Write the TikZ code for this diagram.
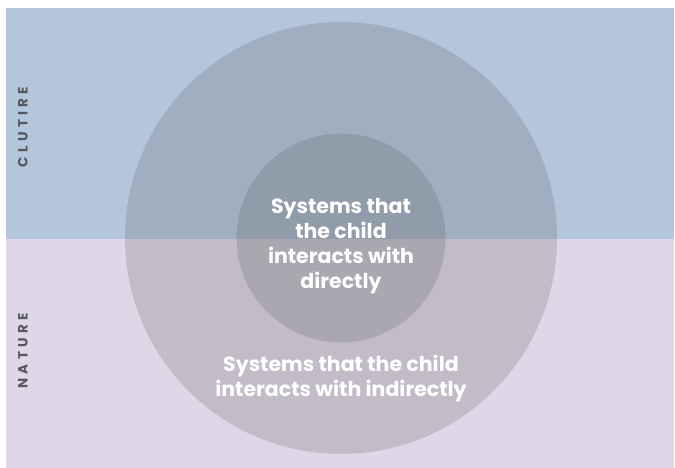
\documentclass[tikz,border=0pt]{standalone}
\usepackage{fontspec}
\setmainfont{Poppins}
\newfontfamily\sidefont[LetterSpace=32]{Poppins}
\usetikzlibrary{positioning}
\definecolor{cultureblue}{HTML}{B3C6DC}
\definecolor{naturelilac}{HTML}{DFD7E8}
\definecolor{ringgray}{HTML}{5D5D5D}
\definecolor{sidegray}{HTML}{55585C}
\tikzset{ring/.style = {fill=ringgray, fill opacity=0.22, draw=none},
  side/.style = {rotate=90, text=sidegray, font=\sidefont\bfseries\fontsize{13.5}{14}\selectfont},
  sys/.style = {text=white, align=center, font=\bfseries\fontsize{20.5}{25}\selectfont}}

\begin{document}
\begin{tikzpicture}[x=1pt, y=1pt]
    \useasboundingbox (0, 0) rectangle (675, 468);

    \fill [cultureblue] (6, 229) rectangle (674, 460);
    \fill [naturelilac] (6, 0) rectangle (674, 229);

    \fill [ring] (341, 230) circle [radius=216];
    \fill [ring] (341, 230) circle [radius=104.5];

    \node [side] (culture) at (23, 341) {CLUTIRE};
    \node [side] (nature) at (23, 117) {NATURE};

    \node [sys] (direct) at (341, 222) {Systems that\\the child\\interacts with\\directly};
    \node [sys] (indirect) at (341, 89) {Systems that the child\\interacts with indirectly};
  \end{tikzpicture}
\end{document}
